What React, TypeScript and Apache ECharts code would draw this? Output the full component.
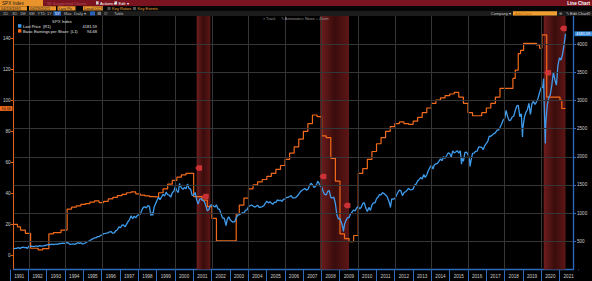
import React, { useEffect, useRef } from "react";
import * as echarts from "echarts";

const W = 592;
const H = 281;
const FONT = '"Liberation Sans", Arial, sans-serif';

// ---------- DATA ----------
// S&P 500 month-end closes, starting Feb 1991
const spx1991to2000 = [
  367.1, 375.2, 375.3, 389.8, 371.2, 387.8, 395.4, 387.9, 392.5, 375.2, 417.1,
  408.8, 412.7, 403.7, 414.9, 415.4, 408.1, 424.2, 414.0, 417.8, 418.7, 431.4, 435.7,
  438.8, 443.4, 451.7, 440.2, 450.2, 451.0, 448.1, 463.6, 458.9, 467.8, 461.8, 466.5,
  481.6, 467.1, 445.8, 450.9, 456.5, 444.3, 458.3, 475.5, 462.7, 472.4, 453.7, 459.3,
  470.4, 487.4, 500.7, 514.7, 533.4, 544.8, 562.1, 561.9, 584.4, 581.5, 605.4, 615.9,
  636.0, 640.4, 645.5, 654.2, 669.1, 670.6, 639.9, 652.0, 687.3, 705.3, 757.0, 740.7,
  786.2, 790.8, 757.1, 801.3, 848.3, 885.1, 954.3, 899.5, 947.3, 914.6, 955.4, 970.4,
  980.3, 1049.3, 1101.8, 1111.8, 1090.8, 1133.8, 1120.7, 957.3, 1017.0, 1098.7, 1163.6, 1229.2,
  1279.6, 1238.3, 1286.4, 1335.2, 1301.8, 1372.7, 1328.7, 1320.4, 1282.7, 1362.9, 1389.0, 1469.3,
  1394.5, 1366.4, 1498.6, 1452.4, 1420.6, 1454.6, 1430.8, 1517.7, 1436.5, 1429.4, 1315.2, 1320.3,
];
const spx2001to2010 = [
  1366.0, 1239.9, 1160.3, 1249.5, 1255.8, 1224.4, 1211.2, 1133.6, 1040.9, 1059.8, 1139.5, 1148.1,
  1130.2, 1106.7, 1147.4, 1076.9, 1067.1, 989.8, 911.6, 916.1, 815.3, 885.8, 936.3, 879.8,
  855.7, 841.2, 848.2, 916.9, 963.6, 974.5, 990.3, 1008.0, 996.0, 1050.7, 1058.2, 1111.9,
  1131.1, 1144.9, 1126.2, 1107.3, 1120.7, 1140.8, 1101.7, 1104.2, 1114.6, 1130.2, 1173.8, 1211.9,
  1181.3, 1203.6, 1180.6, 1156.9, 1191.5, 1191.3, 1234.2, 1220.3, 1228.8, 1207.0, 1249.5, 1248.3,
  1280.1, 1280.7, 1294.9, 1310.6, 1270.1, 1270.2, 1276.7, 1303.8, 1335.9, 1377.9, 1400.6, 1418.3,
  1438.2, 1406.8, 1420.9, 1482.4, 1530.6, 1503.4, 1455.3, 1474.0, 1527.0, 1549.4, 1481.1, 1468.4,
  1378.6, 1330.6, 1322.7, 1385.6, 1400.4, 1280.0, 1267.4, 1282.8, 1166.4, 968.8, 896.2, 903.3,
  825.9, 735.1, 797.9, 872.8, 919.1, 919.3, 987.5, 1020.6, 1057.1, 1036.2, 1095.6, 1115.1,
  1073.9, 1104.5, 1169.4, 1186.7, 1089.4, 1030.7, 1101.6, 1049.3, 1141.2, 1183.3, 1180.6, 1257.6,
];
const spx2011to2021 = [
  1286.1, 1327.2, 1325.8, 1363.6, 1345.2, 1320.6, 1292.3, 1218.9, 1131.4, 1253.3, 1247.0, 1257.6,
  1312.4, 1365.7, 1408.5, 1397.9, 1310.3, 1362.2, 1379.3, 1406.6, 1440.7, 1412.2, 1416.2, 1426.2,
  1498.1, 1514.7, 1569.2, 1597.6, 1630.7, 1606.3, 1685.7, 1633.0, 1681.6, 1756.5, 1805.8, 1848.4,
  1782.6, 1859.5, 1872.3, 1884.0, 1923.6, 1960.2, 1930.7, 2003.4, 1972.3, 2018.1, 2067.6, 2058.9,
  1995.0, 2104.5, 2067.9, 2085.5, 2107.4, 2063.1, 2103.8, 1972.2, 1920.0, 2079.4, 2080.4, 2043.9,
  1940.2, 1932.2, 2059.7, 2065.3, 2097.0, 2098.9, 2173.6, 2171.0, 2168.3, 2126.2, 2198.8, 2238.8,
  2278.9, 2363.6, 2362.7, 2384.2, 2411.8, 2423.4, 2470.3, 2471.7, 2519.4, 2575.3, 2647.6, 2673.6,
  2823.8, 2713.8, 2640.9, 2648.1, 2705.3, 2718.4, 2816.3, 2901.5, 2914.0, 2711.7, 2760.2, 2506.9,
  2704.1, 2784.5, 2834.4, 2945.8, 2752.1, 2941.8, 2980.4, 2926.5, 2976.7, 3037.6, 3141.0, 3230.8,
  3225.5, 2954.2, 2584.6, 2912.4, 3044.3, 3100.3, 3271.1, 3500.3, 3363.0, 3270.0, 3621.6, 3756.1,
  3714.2, 3811.2, 3972.9, 4181.59,
];
// intra-month extremes visible on the daily line
const spxExtremeDates = [
  "1998-10-08", "2000-03-24", "2002-10-09", "2007-10-09", "2009-03-09", "2010-07-02",
  "2011-10-03", "2015-08-25", "2016-02-11", "2018-12-24", "2020-02-19", "2020-03-23",
];
const spxExtremeValues = [959.4, 1527.5, 776.8, 1565.2, 676.5, 1022.6, 1099.2, 1867.6, 1829.1, 2351.1, 3386.2, 2237.4];

// Basic Earnings per Share (trailing), step values
const epsDates = [
  "1991-02-28", "1991-05-15", "1991-07-15", "1991-10-20", "1992-02-01", "1992-06-30", "1992-09-30",
  "1993-01-31", "1993-04-30", "1993-09-30",
  "1994-01-31", "1994-04-30", "1994-07-31", "1994-10-31",
  "1995-01-31", "1995-04-30", "1995-07-31", "1995-10-31",
  "1996-01-31", "1996-04-30", "1996-07-31", "1996-10-31",
  "1997-01-31", "1997-04-30", "1997-07-31", "1997-10-31",
  "1998-01-31", "1998-04-30", "1998-07-31", "1998-10-31",
  "1999-01-31", "1999-04-30", "1999-07-31", "1999-10-31",
  "2000-01-31", "2000-04-30", "2000-07-31", "2000-12-31",
  "2001-06-15", "2001-09-30", "2001-12-31", "2002-03-31",
  "2003-04-30", "2003-06-30", "2003-09-30", "2003-12-31",
  "2004-03-31", "2004-06-30", "2004-09-30", "2004-12-31",
  "2005-03-31", "2005-06-30", "2005-09-30", "2005-12-31",
  "2006-03-31", "2006-06-30", "2006-09-30", "2006-12-31",
  "2007-03-31", "2007-06-30", "2007-09-30", "2007-12-31",
  "2008-03-31", "2008-06-30", "2008-09-30", "2008-12-31",
  "2009-03-31", "2009-06-30", "2009-09-30", "2009-12-31",
  "2010-03-31", "2010-06-30", "2010-09-30", "2010-12-31",
  "2011-03-31", "2011-06-30", "2011-09-30", "2011-12-31",
  "2012-03-31", "2012-06-30", "2012-09-30", "2012-12-31",
  "2013-03-31", "2013-06-30", "2013-09-30", "2013-12-31",
  "2014-03-31", "2014-06-30", "2014-09-30", "2014-12-31",
  "2015-03-31", "2015-06-30", "2015-09-30", "2015-12-31",
  "2016-03-31", "2016-06-30", "2016-09-30", "2016-12-31",
  "2017-03-31", "2017-06-30", "2017-09-30",
  "2018-06-15", "2018-07-31", "2018-09-30", "2018-11-15",
  "2019-01-15", "2019-09-30", "2019-11-30", "2020-01-15",
  "2020-04-20", "2021-01-10", "2021-02-15", "2021-04-30",
];
const epsValues = [
  20.2, 18.6, 16.5, 14.4, 4.8, 3.8, 4.6,
  14.0, 14.8, 16.5,
  30.0, 31.2, 32.0, 33.0,
  33.5, 34.5, 35.2, 34.2,
  35.0, 36.5, 37.5, 38.7,
  39.5, 40.5, 41.0, 39.7,
  39.0, 38.5, 38.0, 37.7,
  40.5, 43.0, 46.0, 48.5,
  50.5, 52.0, 53.0, 38.0,
  35.8, 31.5, 24.0, 9.5,
  27.0, 32.5, 37.0, 43.0,
  45.5, 47.5, 49.0, 51.0,
  53.0, 55.5, 58.0, 62.0,
  66.0, 70.0, 75.0, 80.0,
  85.0, 90.5, 89.5, 77.0,
  76.0, 62.6, 48.0, 14.0,
  11.0, 9.0, 13.0, 53.0,
  56.0, 62.0, 67.0, 72.0,
  76.0, 80.0, 83.0, 85.0,
  86.0, 85.0, 84.5, 86.5,
  89.0, 92.0, 95.0, 98.0,
  100.0, 101.5, 103.0, 104.0,
  105.0, 102.0, 98.0, 92.0,
  90.0, 90.0, 92.0, 95.0,
  98.0, 102.0, 107.6,
  114.0, 119.4, 130.0, 132.0,
  136.6, 135.5, 133.4, 142.0,
  102.0, 100.0, 94.68, 94.68,
];

const recessionStarts = ["2001-03-01", "2007-12-01", "2020-02-20"];
const recessionEnds = ["2001-11-30", "2009-06-30", "2021-05-01"];

const eventDates = ["2001-04-10", "2001-08-20", "2008-01-25", "2009-05-20", "2020-05-10", "2021-03-18"];
const eventValues = [1800, 1296, 1650, 1136, 3491, 4277];

const yearLabels = Array.from({ length: 31 }, (_, i) => String(1991 + i));
const gridYears = [1992, 1994, 1996, 1998, 2000, 2002, 2004, 2006, 2008, 2010, 2012, 2014, 2016, 2018, 2020];
const rightTicks = [500, 1000, 1500, 2000, 2500, 3000, 3500, 4000];

// ---------- helpers ----------
const toTs = (s: string) => {
  const [y, m, d] = s.split("-").map(Number);
  return Date.UTC(y, m - 1, d);
};
const monthEnd = (y: number, m: number) => Date.UTC(y, m + 1, 0);

const spxMonthly = [...spx1991to2000, ...spx2001to2010, ...spx2011to2021];
const spxData: [number, number][] = spxMonthly.map((v, i) => {
  const mi = 1 + i; // months since Jan 1991
  return [monthEnd(1991 + Math.floor(mi / 12), mi % 12), v];
});
spxExtremeDates.forEach((d, i) => spxData.push([toTs(d), spxExtremeValues[i]]));
spxData.sort((a, b) => a[0] - b[0]);

const epsData = epsDates.map((d, i) => [toTs(d), epsValues[i]]);
const eventData = eventDates.map((d, i) => [toTs(d), eventValues[i]]);

const lastSpx = spxMonthly[spxMonthly.length - 1];
const lastEps = epsValues[epsValues.length - 1];

// layout
const G_LEFT = 13;
const G_RIGHT_PX = 573;
const G_TOP = 16;
const G_BOTTOM = 11.5;
const X_MIN = toTs("1991-02-28");
const X_MAX = toTs("2021-09-27");
const pxOf = (t: number) => G_LEFT + ((t - X_MIN) / (X_MAX - X_MIN)) * (G_RIGHT_PX - G_LEFT);
const LBL_LEFT = pxOf(Date.UTC(1991, 0, 1));
const LBL_RIGHT = pxOf(Date.UTC(2022, 0, 1));

const BLUE = "#3f9cec";
const ORANGE = "#f26a1b";
const AXIS_BLUE = "#2c6cc0";
const AXIS_ORANGE = "#e0621c";
const LABEL = "#cfcfcf";

const txt = (x: number, y: number, text: string, fill: string, size = 4.5, align = "left", weight = "normal") => ({
  type: "text",
  x,
  y,
  silent: true,
  z: 100,
  style: { text, fill, fontSize: size, fontFamily: FONT, fontWeight: weight, textAlign: align, textVerticalAlign: "middle" },
});
const box = (x: number, y: number, w: number, h: number, fill: string) => ({
  type: "rect",
  silent: true,
  z: 99,
  shape: { x, y, width: w, height: h },
  style: { fill },
});

const headerElements = () => [
  box(0, 0, W, 6, "#7a1420"),
  box(0, 0, 43, 6, "#e8932c"),
  txt(2, 3.1, "SPX Index", "#1a1a1a", 4.6),
  txt(47, 3.1, "96 Suggested Charts", "#b2525b", 4.2),
  box(96, 1.3, 2.6, 3.2, "#d0d0d0"),
  txt(100, 3.1, "Actions ▾", "#ffffff", 4),
  box(114.5, 1.3, 2.6, 3.2, "#d0d0d0"),
  txt(118.5, 3.1, "Edit ▾", "#ffffff", 4),
  txt(590, 3.1, "Line Chart", "#ffffff", 4.6, "right", "bold"),
  box(0, 6, W, 4.7, "#050505"),
  box(0, 6.2, 27, 4.4, "#e8932c"),
  txt(1, 8.4, "04/19/1991", "#1a1a1a", 4),
  box(29, 6.2, 27, 4.4, "#e8932c"),
  txt(30, 8.4, "04/29/2021", "#1a1a1a", 4),
  box(57.5, 6.2, 18, 4.4, "#e8932c"),
  txt(58.5, 8.4, "Last Px", "#1a1a1a", 4),
  box(83, 6.2, 20, 4.4, "#e8932c"),
  txt(84, 8.4, "Local CCY", "#1a1a1a", 4),
  box(107.5, 7, 3, 3, "#555"),
  txt(112, 8.4, "Key Ratios", "#f0a030", 4),
  box(133, 7, 3, 3, "#555"),
  txt(137.5, 8.4, "Key Events", "#f0a030", 4),
  box(0, 10.7, W, 5.3, "#1c1c1c"),
  txt(3, 13.3, "1D", "#bbbbbb", 4),
  txt(12, 13.3, "3D", "#bbbbbb", 4),
  txt(20, 13.3, "1M", "#bbbbbb", 4),
  txt(29, 13.3, "6M", "#bbbbbb", 4),
  txt(37.5, 13.3, "YTD", "#bbbbbb", 4),
  txt(47, 13.3, "1Y", "#bbbbbb", 4),
  box(53.5, 11.2, 7.5, 4.4, "#2a62b8"),
  txt(55, 13.3, "5Y", "#ffffff", 4),
  txt(64, 13.3, "Max", "#bbbbbb", 4),
  txt(74, 13.3, "Daily ▾", "#bbbbbb", 4),
  box(90, 11.4, 5, 4, "#2a62b8"),
  box(97.5, 11.8, 3.5, 3.2, "#777"),
  box(104, 11.8, 3.5, 3.2, "#444"),
  txt(114, 13.3, "Table", "#bbbbbb", 4),
  txt(511, 13.3, "Company ▾", "#cccccc", 4, "right"),
  box(513, 11.2, 44, 4.4, "#f0a030"),
  txt(515, 13.3, "Add Data", "#c06a10", 4),
  txt(559, 13.3, "⊕", "#aaaaaa", 4),
  txt(566, 13.3, "✎ Edit Chart", "#dddddd", 4),
  txt(587, 13.3, "⚙", "#aaaaaa", 4),
  txt(263, 19, "⌖ Track", "#9a9a9a", 3.8),
  txt(281, 19, "✎ Annotate", "#9a9a9a", 3.8),
  txt(300, 19, "▭ News", "#9a9a9a", 3.8),
  txt(316, 19, "⌕ Zoom", "#9a9a9a", 3.8),
  // legend
  txt(62, 21.3, "SPX Index", "#dddddd", 4.2, "center"),
  box(18, 24.2, 3.4, 3.4, BLUE),
  txt(23, 26, "Last Price  (R1)", "#e5e5e5", 4),
  txt(97, 26, lastSpx.toFixed(2), "#e5e5e5", 4, "right"),
  box(18, 29.2, 3.4, 3.4, ORANGE),
  txt(23, 31, "Basic Earnings per Share  (L1)", "#e5e5e5", 4),
  txt(97, 31, lastEps.toFixed(2), "#e5e5e5", 4, "right"),
  // hide band edge tick beyond right axis
  box(574.5, 270.2, 18, 11, "#000"),
];

const tagElements = (yEps: number, ySpx: number) => [
  box(0, yEps - 2.4, 12.5, 4.8, ORANGE),
  txt(6.2, yEps + 0.1, lastEps.toFixed(2), "#1a1a1a", 3.8, "center"),
  box(574.5, ySpx - 2.4, 17.5, 4.8, "#3a8fe0"),
  txt(583.2, ySpx + 0.1, lastSpx.toFixed(2), "#ffffff", 3.8, "center"),
];

const bandColor = {
  type: "linear",
  x: 0,
  y: 0,
  x2: 1,
  y2: 0,
  colorStops: [
    { offset: 0, color: "#6f1d1d" },
    { offset: 0.5, color: "#3a0c0c" },
    { offset: 1, color: "#5e1616" },
  ],
};

const option: any = {
  animation: false,
  backgroundColor: "#000",
  grid: [
    { left: G_LEFT, right: W - G_RIGHT_PX, top: G_TOP, bottom: G_BOTTOM },
    { left: LBL_LEFT, right: W - LBL_RIGHT, top: G_TOP, bottom: G_BOTTOM },
  ],
  xAxis: [
    {
      type: "time",
      gridIndex: 0,
      min: X_MIN,
      max: X_MAX,
      axisLine: { show: true, onZero: false, lineStyle: { color: AXIS_BLUE, width: 1.3 } },
      axisTick: { show: false },
      axisLabel: { show: false },
      splitLine: { show: false },
    },
    {
      type: "category",
      gridIndex: 1,
      data: yearLabels,
      boundaryGap: true,
      position: "bottom",
      axisLine: { show: false, onZero: false },
      axisTick: { show: true, length: 11.5, lineStyle: { color: AXIS_BLUE, width: 1 } },
      axisLabel: { color: LABEL, fontSize: 4.6, fontFamily: FONT, margin: 4.5, interval: 0 },
      splitLine: { show: false },
    },
  ],
  yAxis: [
    {
      type: "value",
      gridIndex: 0,
      position: "left",
      min: -8.87,
      max: 154.15,
      splitNumber: 8,
      axisLine: { show: true, lineStyle: { color: AXIS_ORANGE, width: 1 } },
      axisTick: { show: true, length: 3, lineStyle: { color: AXIS_ORANGE } },
      axisLabel: {
        color: LABEL, fontSize: 4.6, fontFamily: FONT, margin: 3,
        showMinLabel: false, showMaxLabel: false,
        formatter: (v: number) => String(v),
      },
      splitLine: { show: false },
    },
    {
      type: "value",
      gridIndex: 0,
      position: "right",
      min: 0,
      max: 4497,
      interval: 500,
      axisLine: { show: true, lineStyle: { color: AXIS_BLUE, width: 1.3 } },
      axisTick: { show: true, length: 3, lineStyle: { color: AXIS_BLUE } },
      axisLabel: {
        color: LABEL, fontSize: 4.6, fontFamily: FONT, margin: 4,
        showMinLabel: false, showMaxLabel: false,
        formatter: (v: number) => String(v),
      },
      splitLine: { show: false },
    },
    { type: "value", gridIndex: 1, min: 0, max: 1, show: false },
  ],
  series: [
    {
      name: "bands",
      type: "line",
      xAxisIndex: 0,
      yAxisIndex: 1,
      data: [],
      z: 1,
      silent: true,
      markArea: {
        silent: true,
        itemStyle: { color: bandColor },
        data: recessionStarts.map((s, i) => [{ xAxis: toTs(s) }, { xAxis: toTs(recessionEnds[i]) }]),
      },
    },
    {
      name: "grid",
      type: "line",
      xAxisIndex: 0,
      yAxisIndex: 1,
      data: [],
      z: 2,
      silent: true,
      markLine: {
        silent: true,
        symbol: ["none", "none"],
        label: { show: false },
        lineStyle: { color: "#363636", width: 1, type: "solid" },
        data: [
          ...rightTicks.map((v) => ({ yAxis: v })),
          ...gridYears.map((y) => ({ xAxis: Date.UTC(y, 0, 1) })),
        ],
      },
    },
    {
      name: "Basic Earnings per Share (L1)",
      type: "line",
      xAxisIndex: 0,
      yAxisIndex: 0,
      step: "end",
      showSymbol: false,
      z: 3,
      lineStyle: { color: ORANGE, width: 1.2 },
      data: epsData,
    },
    {
      name: "Last Price (R1)",
      type: "line",
      xAxisIndex: 0,
      yAxisIndex: 1,
      showSymbol: false,
      z: 4,
      lineStyle: { color: BLUE, width: 1.3 },
      data: spxData,
    },
    {
      name: "events",
      type: "scatter",
      xAxisIndex: 0,
      yAxisIndex: 1,
      z: 5,
      symbol: "path://M0,5 L4,0 L11,0 Q13,0 13,2 L13,8 Q13,10 11,10 L4,10 Z",
      symbolSize: [7, 5.5],
      itemStyle: { color: "#e8383d" },
      data: eventData,
    },
  ],
  graphic: { elements: headerElements() },
};

export default function App() {
  const ref = useRef<HTMLDivElement>(null);
  useEffect(() => {
    const chart = echarts.init(ref.current!, null, { renderer: "svg", width: W, height: H });
    chart.setOption(option);
    const yEps = chart.convertToPixel({ yAxisIndex: 0 }, lastEps) as unknown as number;
    const ySpx = chart.convertToPixel({ yAxisIndex: 1 }, lastSpx) as unknown as number;
    chart.setOption({ graphic: { elements: [...headerElements(), ...tagElements(yEps, ySpx)] } });
    return () => chart.dispose();
  }, []);
  return (
    <div
      ref={ref}
      style={{ position: "fixed", left: 0, top: 0, width: W, height: H, background: "#000" }}
    />
  );
}
